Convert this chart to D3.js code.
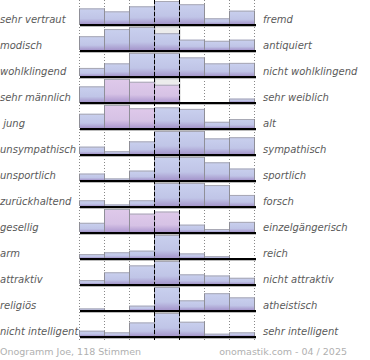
<!DOCTYPE html>
<html><head><meta charset="utf-8">
<script src="https://cdn.jsdelivr.net/npm/d3@7"></script>
<style>html,body{margin:0;padding:0;background:#fff;}svg{display:block;}text{white-space:pre;}</style>
</head><body>
<svg id="c" width="370" height="360"></svg>
<script>
const leftLabels = ["sehr vertraut","modisch","wohlklingend","sehr männlich"," jung","unsympathisch","unsportlich","zurückhaltend","gesellig","arm","attraktiv","religiös","nicht intelligent"];
const rightLabels = ["fremd","antiquiert","nicht wohlklingend","sehr weiblich","alt","sympathisch","sportlich","forsch","einzelgängerisch","reich","nicht attraktiv","atheistisch","sehr intelligent"];
const levels = [1,2,3,4,5,6,7];
const values = [
  [68,55,77,100,86,25,58],
  [60,91,100,73,45,40,45],
  [35,55,100,100,81,55,57],
  [68,100,88,75,0,0,15],
  [62,100,86,90,83,27,39],
  [32,12,55,100,100,68,73],
  [28,7,41,100,100,77,50],
  [25,7,25,100,100,91,48],
  [40,100,80,89,32,13,44],
  [17,25,32,100,20,8,0],
  [17,51,81,100,42,37,27],
  [7,0,19,100,42,73,55],
  [23,16,59,100,62,10,16]
];
const pinkCells = [[3,1],[3,2],[3,3],[4,1],[4,2],[8,1],[8,2],[8,3]];
const ghostCells = [[1,3],[3,3]];
const footerLeft = "Onogramm Joe, 118 Stimmen";
const footerRight = "onomastik.com - 04 / 2025";

const svg = d3.select("#c");
const x = d3.scaleBand().domain(levels).range([80,255]).paddingInner(0).paddingOuter(0);
const row = d3.scaleBand().domain(d3.range(values.length)).range([0,338]);
const h = d3.scaleLinear().domain([0,100]).range([0,23]);
const base = i => row(i) + 25;

const defs = svg.append("defs");
function grad(id, c0, c1, c2){
  const g = defs.append("linearGradient").attr("id",id).attr("x1",0).attr("y1",0).attr("x2",0).attr("y2",1);
  g.append("stop").attr("offset","0%").attr("stop-color",c0);
  g.append("stop").attr("offset","65%").attr("stop-color",c1);
  g.append("stop").attr("offset","100%").attr("stop-color",c2);
}
grad("gb","#c9d0ee","#c0c5e7","#a596cb");
grad("gp","#dfc9ea","#d6c2e5","#ad98cf");

const chartTop = 0, chartBottom = 341;
const gridX = [80,105,130,205,230,255];
svg.append("g").selectAll("line").data(gridX).join("line")
  .attr("x1",d=>d-0.5).attr("x2",d=>d-0.5).attr("y1",chartTop).attr("y2",chartBottom)
  .attr("stroke","#888").attr("stroke-width",1).attr("stroke-dasharray","1,2");

const pinkSet = new Set(pinkCells.map(d=>d[0]+"-"+d[1]));
const rowsG = svg.append("g");
values.forEach((vals,i)=>{
  const g = rowsG.append("g");
  const B = base(i);
  ghostCells.filter(c=>c[0]===i).forEach(c=>{
    g.append("rect").attr("x",x(levels[c[1]])).attr("y",B-1-h(100)).attr("width",x.bandwidth()).attr("height",h(100))
      .attr("fill","#ececec").attr("stroke","#c8c8c8").attr("stroke-width",0.8);
  });
  const cells = vals.map((v,j)=>({v,j,l:levels[j]})).filter(d=>d.v>0);
  g.selectAll("rect.bar").data(cells).join("rect").attr("class","bar")
    .attr("x",d=>x(d.l)).attr("y",d=>B-1-h(d.v)).attr("width",x.bandwidth()).attr("height",d=>h(d.v))
    .attr("fill",d=>pinkSet.has(i+"-"+d.j)?"url(#gp)":"url(#gb)");
  g.selectAll("line.top").data(cells).join("line").attr("class","top")
    .attr("x1",d=>x(d.l)).attr("x2",d=>x(d.l)+x.bandwidth()).attr("y1",d=>B-1-h(d.v)+0.5).attr("y2",d=>B-1-h(d.v)+0.5)
    .attr("stroke","#a8a8b4").attr("stroke-width",1);
  const edges = [];
  for(let j=0;j<=vals.length;j++){
    const a = j>0?vals[j-1]:0, b = j<vals.length?vals[j]:0;
    const m = Math.max(a,b);
    if(m>0) edges.push({xx:(j<vals.length?x(levels[j]):x(levels[j-1])+x.bandwidth()), m});
  }
  g.selectAll("line.sep").data(edges).join("line").attr("class","sep")
    .attr("x1",d=>d.xx-0.5).attr("x2",d=>d.xx-0.5).attr("y1",d=>B-1-h(d.m)).attr("y2",B-1)
    .attr("stroke","#8f8f98").attr("stroke-width",1);
  g.append("line").attr("x1",80).attr("x2",256).attr("y1",B+1.5).attr("y2",B+1.5).attr("stroke","#bbb").attr("stroke-width",1);
  g.append("line").attr("x1",80).attr("x2",256).attr("y1",B).attr("y2",B).attr("stroke","#000").attr("stroke-width",2);
  g.append("text").attr("x",0).attr("y",B-2).text(leftLabels[i])
    .attr("font-family","DejaVu Sans").attr("font-style","italic").attr("font-size",10).attr("fill","#5a5a5a");
  g.append("text").attr("x",263).attr("y",B-2).text(rightLabels[i])
    .attr("font-family","DejaVu Sans").attr("font-style","italic").attr("font-size",10).attr("fill","#5a5a5a");
});

svg.append("g").selectAll("line").data([155,180]).join("line")
  .attr("x1",d=>d-0.5).attr("x2",d=>d-0.5).attr("y1",chartTop).attr("y2",chartBottom)
  .attr("stroke","#000").attr("stroke-width",1).attr("stroke-dasharray","4,2");

svg.append("text").attr("x",0).attr("y",355).text(footerLeft)
  .attr("font-family","DejaVu Sans").attr("font-size",9.5).attr("fill","#b0b0b0");
svg.append("text").attr("x",347).attr("y",355).attr("text-anchor","end").text(footerRight)
  .attr("font-family","DejaVu Sans").attr("font-size",9.5).attr("fill","#b0b0b0");
</script>
</body></html>
